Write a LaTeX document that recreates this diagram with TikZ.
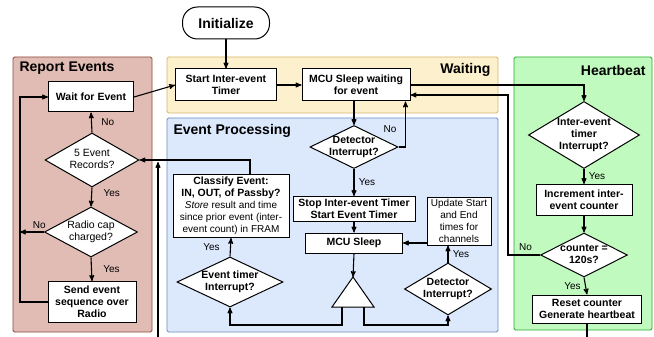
\documentclass[tikz,border=0pt]{standalone}
\usepackage{fontspec}
\setmainfont{Liberation Sans}
\usepackage{xcolor}
\usepackage{tikz}
\usetikzlibrary{shapes,arrows,positioning}
\tikzset{>=stealth'}
\definecolor{repfill}{RGB}{224,188,180}
\definecolor{repedge}{RGB}{140,72,60}
\definecolor{waitfill}{RGB}{253,240,204}
\definecolor{waitedge}{RGB}{214,182,110}
\definecolor{evfill}{RGB}{220,232,252}
\definecolor{evedge}{RGB}{108,142,191}
\definecolor{hbfill}{RGB}{192,250,190}
\definecolor{hbedge}{RGB}{40,170,40}
\newcommand{\boxfont}{\fontsize{10.5}{12}\selectfont\bfseries}
\newcommand{\smallfont}{\fontsize{10}{12}\selectfont}
\newcommand{\lblfont}{\fontsize{10.5}{12}\selectfont}
\newcommand{\ynfont}{\fontsize{10}{11}\selectfont}
% text of a decision, kept out of the size of its diamond
\newcommand{\dlbl}[1]{\makebox[0pt]{\raisebox{-0.52em}{\smash{\begin{tabular}{@{}c@{}}#1\end{tabular}}}}}

\begin{document}
\begin{tikzpicture}[x=1pt,y=-1pt,
              panel/.style={line width=0.8pt, rounded corners=1.5pt},
              title/.style={font=\fontsize{14}{16}\selectfont\bfseries},
              proc/.style={draw, fill=white, line width=1pt, align=center, font=\boxfont, inner sep=1pt},
              test/.style={draw, fill=white, line width=1pt, diamond, inner sep=0pt, font=\lblfont},
              flow/.style={line width=1.1pt, ->},
              yn/.style={font=\ynfont},
             ]
\useasboundingbox (0,0) rectangle (654,337);

% panels
\draw[panel, fill=repfill, draw=repedge] (13,57) rectangle (152,332);
\draw[panel, fill=waitfill, draw=waitedge] (167,57) rectangle (498,113);
\draw[panel, fill=evfill, draw=evedge] (167,118) rectangle (498,332);
\draw[panel, fill=hbfill, draw=hbedge] (514,57) rectangle (652,330);

\node[title, anchor=west] (reptitle) at (16,68) {Report Events};
\node[title, anchor=east] (waittitle) at (494,70) {Waiting};
\node[title, anchor=west] (evtitle) at (170,131) {Event Processing};
\node[title, anchor=east] (hbtitle) at (649,70) {Heartbeat};

% start
\node[draw, fill=white, line width=1pt, rounded corners=15pt, minimum width=87pt, minimum height=32pt,
      font=\fontsize{14}{16}\selectfont\bfseries] (init) at (226,23) {Initialize};
\node[proc, minimum width=101pt, minimum height=32pt] (start) at (226,85) {Start Inter-event\\Timer};
\node[proc, minimum width=108pt, minimum height=32pt] (sleepw) at (356,85) {MCU Sleep waiting\\for event};

% report events
\node[proc, minimum width=85pt, minimum height=30pt] (wait) at (91,97) {Wait for Event};
\node[test, minimum width=94pt, minimum height=54pt] (five) at (92,160) {\dlbl{5 Event\\Records?}};
\node[test, minimum width=93pt, minimum height=50pt] (radio) at (91,232) {\dlbl{Radio cap\\charged?}};
\node[proc, minimum width=88pt, minimum height=41pt] (send) at (92,302) {Send event\\sequence over\\Radio};
\coordinate (lp) at (20,0);
\coordinate (inlet) at (158,337);

% event processing
\node[test, font=\boxfont, minimum width=88pt, minimum height=43pt] (det1) at (354,147) {\dlbl{Detector\\Interrupt?}};
\node[proc, minimum width=122pt, minimum height=25pt, inner sep=0pt] (stop) at (354,209) {Stop Inter-event Timer\\Start Event Timer};
\node[proc, minimum width=97pt, minimum height=20pt] (sleep) at (354,243) {MCU Sleep};
\node[proc, minimum width=116pt, minimum height=63pt, inner sep=0pt] (classify) at (231,206)
     {Classify Event:\\IN, OUT, of Passby?\\{\smallfont\mdseries\textit{Store} result and time}\\
      {\smallfont\mdseries since prior event (inter-}\\{\smallfont\mdseries event count) in FRAM}};
\node[test, font=\boxfont, minimum width=106pt, minimum height=50pt] (evtimer) at (230,282) {\dlbl{Event timer\\Interrupt?}};
\node[proc, font=\smallfont, minimum width=64pt, minimum height=48pt, inner sep=0pt] (update) at (459,221) {Update Start\\and End\\times for\\channels};
\node[test, font=\boxfont, minimum width=87pt, minimum height=52pt] (det2) at (448,289) {\dlbl{Detector\\Interrupt?}};
\coordinate (apex) at (353,277);
\coordinate (trL) at (342,307);
\coordinate (trR) at (364,307);

% heartbeat
\node[test, font=\boxfont, minimum width=111pt, minimum height=67pt] (hbint) at (584,135) {\dlbl{Inter-event\\timer\\Interrupt?}};
\node[proc, minimum width=96pt, minimum height=31pt] (incr) at (584,200) {Increment inter-\\event counter};
\node[test, font=\boxfont, minimum width=87pt, minimum height=44pt] (cnt) at (584,255) {\dlbl{counter =\\120s?}};
\node[proc, minimum width=109pt, minimum height=28pt] (reset) at (587,309) {Reset counter\\Generate heartbeat};
\coordinate (rx) at (508,0);

% connectors
\draw[flow] (init) -- (start);
\draw[flow] (start) -- (sleepw);
\draw[flow] (wait.east) -- (start.west);
\draw[flow] (five.north) -- (wait.south) node[yn, midway, right=6pt] (no1) {No};
\draw[flow] (five.south) -- (radio.north) node[yn, pos=0.3, right=8pt] (yes1) {Yes};
\draw[flow] (radio.south) -- (send.north) node[yn, midway, right=8pt] (yes2) {Yes};
\draw[flow] (radio.west) -- node[yn, pos=0.2, above] (no2) {No} (radio.west -| lp);
\draw[flow] (send.west) -- (send.west -| lp) |- (wait.west);
\draw[flow] (inlet) -- (158,162);

\draw[flow] (sleepw.south -| det1.north) -- (det1.north);
\draw[flow] (det1.south) -- (stop.north) node[yn, midway, right=1pt] (yes3) {Yes};
\draw[flow] (det1.east) -| ([xshift=-5pt]sleepw.south east);
\node[yn] (no3) at (390,129) {No};
\draw[flow] (stop.south) -- (sleep.north);
\draw[flow] (sleep.south) -- (apex);
\draw[line width=1pt, fill=white] (332,307) -- (apex) -- (374,307) -- cycle;
\draw[flow] (trL) -- ++(0,18) -| (evtimer.south);
\draw[flow] (trR) -- ++(0,18) -| (det2.south);
\draw[flow] (evtimer.north) -- (classify.south) node[yn, midway, left=7pt] (yes4) {Yes};
\draw[flow] ([xshift=19pt]classify.north) |- (five.east);
\draw[flow] (det2.north) -- (update.south -| det2.north) node[yn, midway, right=1pt] (yes5) {Yes};
\draw[flow] (sleep.east -| update.west) -- (sleep.east);

\draw[flow] (sleepw.east) -| (hbint.north);
\draw[flow] (hbint.south) -- (incr.north) node[yn, midway, right=1pt] (yes6) {Yes};
\draw[flow] (incr.south) -- (cnt.north);
\draw[flow] (cnt.south) -- (reset.north) node[yn, midway, left=1pt] (yes7) {Yes};
\draw[flow] (cnt.west) -- node[yn, pos=0.45, above=1pt] (no4) {No} (cnt.west -| rx) |- ([yshift=-10pt]sleepw.east);
\draw[line width=1.1pt] (reset.south) -- (reset.south |- inlet);
\end{tikzpicture}
\end{document}
